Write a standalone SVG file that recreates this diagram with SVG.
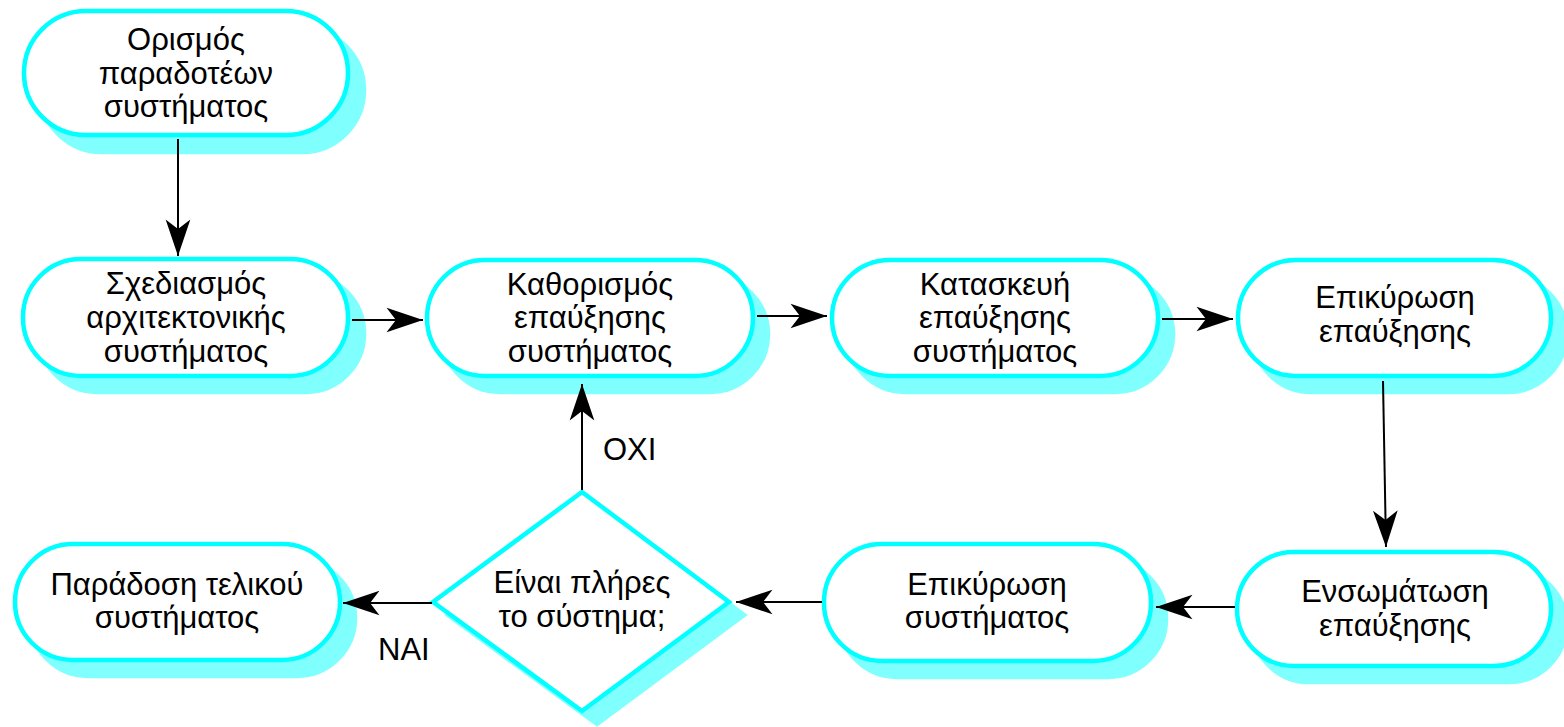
<svg xmlns="http://www.w3.org/2000/svg" width="1564" height="727" viewBox="0 0 1564 727">
<style>
.sh{fill:#80ffff;stroke:#80ffff;stroke-width:4.5}
.nd{fill:#ffffff;stroke:#00ffff;stroke-width:4.5}
.t{font-family:"Liberation Sans",Arial,sans-serif;font-size:31px;fill:#000;text-anchor:middle}
.lb{font-family:"Liberation Sans",Arial,sans-serif;font-size:31px;fill:#000}
.c{stroke:#000;stroke-width:2;fill:none;marker-end:url(#ah)}
</style>
<defs>
<marker id="ah" markerUnits="userSpaceOnUse" markerWidth="40" markerHeight="30" viewBox="-32 -12 34 24" refX="0" refY="0" orient="auto">
<path d="M0,0 L-31,-10.5 L-23,0 L-31,10.5 Z" fill="#000"/>
</marker>
</defs>
<g id="n1">
<rect class="sh" x="40" y="28" width="324" height="124" rx="62"/>
<rect class="nd" x="24" y="11" width="324" height="124" rx="62"/>
<text class="t" x="186" y="50">Ορισμός</text>
<text class="t" x="186" y="84">παραδοτέων</text>
<text class="t" x="186" y="117">συστήματος</text>
</g>
<g id="n2">
<rect class="sh" x="39" y="275" width="325" height="117" rx="58"/>
<rect class="nd" x="23" y="259" width="325" height="117" rx="58"/>
<text class="t" x="186" y="294">Σχεδιασμός</text>
<text class="t" x="186" y="328">αρχιτεκτονικής</text>
<text class="t" x="186" y="362">συστήματος</text>
</g>
<g id="n3">
<rect class="sh" x="442" y="276" width="326" height="116" rx="58"/>
<rect class="nd" x="427" y="260" width="326" height="116" rx="58"/>
<text class="t" x="590" y="295">Καθορισμός</text>
<text class="t" x="590" y="328">επαύξησης</text>
<text class="t" x="590" y="362">συστήματος</text>
</g>
<g id="n4">
<rect class="sh" x="847" y="276" width="326" height="116" rx="58"/>
<rect class="nd" x="832" y="260" width="326" height="116" rx="58"/>
<text class="t" x="995" y="295">Κατασκευή</text>
<text class="t" x="995" y="328">επαύξησης</text>
<text class="t" x="995" y="362">συστήματος</text>
</g>
<g id="n5">
<rect class="sh" x="1253" y="276" width="313" height="116" rx="58"/>
<rect class="nd" x="1238" y="260" width="313" height="116" rx="58"/>
<text class="t" x="1395" y="308">Επικύρωση</text>
<text class="t" x="1395" y="342">επαύξησης</text>
</g>
<g id="n6">
<rect class="sh" x="1252" y="568" width="314" height="114" rx="57"/>
<rect class="nd" x="1237" y="552" width="314" height="114" rx="57"/>
<text class="t" x="1395" y="602">Ενσωμάτωση</text>
<text class="t" x="1395" y="636">επαύξησης</text>
</g>
<g id="n7">
<rect class="sh" x="839" y="560" width="327" height="117" rx="58"/>
<rect class="nd" x="824" y="544" width="327" height="117" rx="58"/>
<text class="t" x="987" y="595">Επικύρωση</text>
<text class="t" x="987" y="628">συστήματος</text>
</g>
<g id="n8">
<polygon class="sh" points="597,505 744,615 597,724 448,615"/>
<polygon class="nd" points="582,492 729,602 582,711 433,602"/>
<text class="t" x="582" y="593">Είναι πλήρες</text>
<text class="t" x="582" y="627">το σύστημα;</text>
</g>
<g id="n9">
<rect class="sh" x="30" y="560" width="325" height="116" rx="58"/>
<rect class="nd" x="15" y="544" width="325" height="116" rx="58"/>
<text class="t" x="177" y="595">Παράδοση τελικού</text>
<text class="t" x="177" y="628">συστήματος</text>
</g>
<g id="connectors">
<line class="c" x1="178" y1="139" x2="178" y2="256"/>
<line class="c" x1="352" y1="320" x2="423" y2="320"/>
<line class="c" x1="757" y1="316" x2="827" y2="316"/>
<line class="c" x1="1162" y1="319" x2="1233" y2="319"/>
<line class="c" x1="1383" y1="381" x2="1386" y2="547"/>
<line class="c" x1="1235" y1="607" x2="1156" y2="607"/>
<line class="c" x1="822" y1="602" x2="736" y2="602"/>
<line class="c" x1="432" y1="603" x2="343" y2="603"/>
<line class="c" x1="582" y1="490" x2="582" y2="384"/>
<text class="lb" x="603" y="460">ΟΧΙ</text>
<text class="lb" x="378" y="660">ΝΑΙ</text>
</g>
</svg>
